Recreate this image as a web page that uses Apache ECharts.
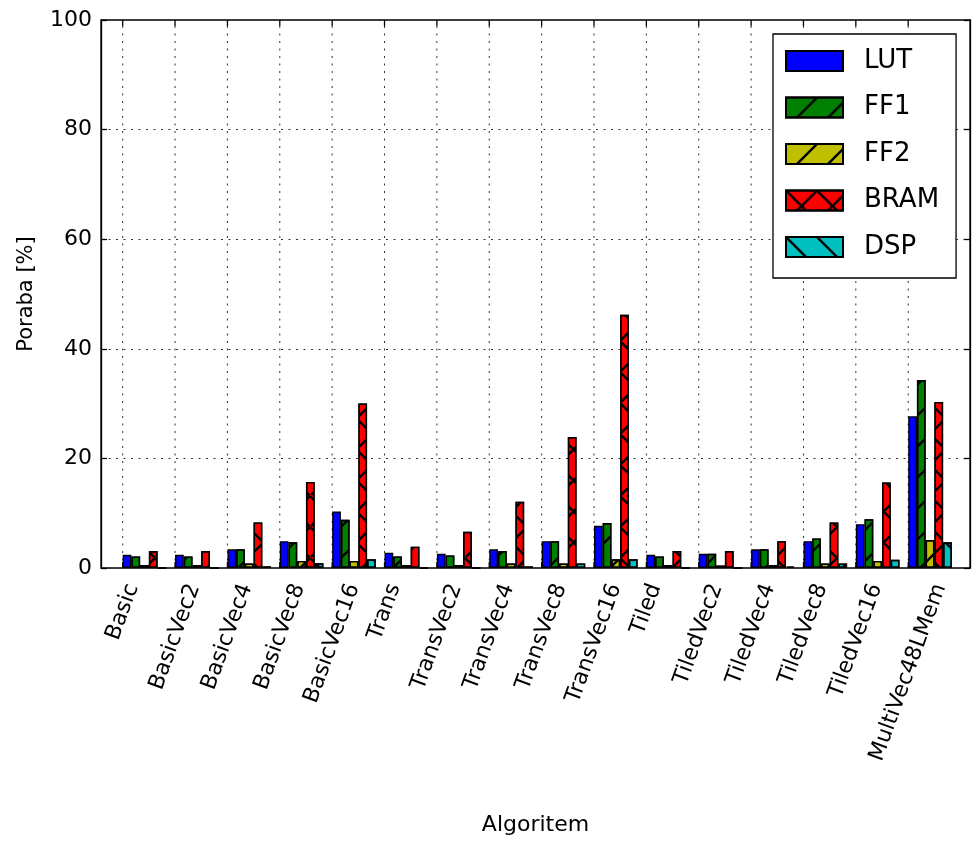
<!DOCTYPE html>
<html>
<head>
<meta charset="utf-8">
<script src="https://cdn.jsdelivr.net/npm/echarts@6/dist/echarts.min.js"></script>
<style>html,body{margin:0;padding:0;background:#fff}#c{width:972px;height:843px}</style>
</head>
<body>
<div id="c"></div>
<script>
const categories = ['Basic','BasicVec2','BasicVec4','BasicVec8','BasicVec16','Trans','TransVec2','TransVec4','TransVec8','TransVec16','Tiled','TiledVec2','TiledVec4','TiledVec8','TiledVec16','MultiVec48LMem'];
const seriesNames = ['LUT','FF1','FF2','BRAM','DSP'];
const LUT  = [2.4, 2.4, 3.4, 4.9, 10.3, 2.8, 2.6, 3.4, 4.9, 7.7, 2.4, 2.6, 3.4, 4.9, 8.0, 27.7];
const FF1  = [2.1, 2.1, 3.4, 4.7, 8.8, 2.1, 2.3, 3.1, 4.9, 8.2, 2.1, 2.6, 3.4, 5.4, 8.9, 34.3];
const FF2  = [0.55, 0.55, 0.8, 1.3, 1.3, 0.55, 0.55, 0.8, 0.8, 1.6, 0.55, 0.45, 0.55, 0.8, 1.3, 5.1];
const BRAM = [3.1, 3.1, 8.3, 15.7, 30.0, 3.9, 6.6, 12.1, 23.9, 46.2, 3.1, 3.1, 4.9, 8.3, 15.6, 30.3];
const DSP  = [0, 0, 0.3, 0.85, 1.6, 0, 0, 0.3, 0.8, 1.6, 0, 0, 0.25, 0.8, 1.5, 4.7];
const yTicks = [0, 20, 40, 60, 80, 100];

const values = [LUT, FF1, FF2, BRAM, DSP];
const colors = ['#0000ff', '#008000', '#bfbf00', '#ff0000', '#00bfbf'];
const FONT = 'DejaVu Sans';
const XFS = 22;

// hatch decals
const t = 5.5;
const slash = `M0,${100-t} L${100-t},0 L100,0 L100,${t} L${t},100 L0,100 Z M0,0 L${t},0 L0,${t} Z M100,100 L${100-t},100 L100,${100-t} Z`;
const back = `M0,0 L${t},0 L100,${100-t} L100,100 L${100-t},100 L0,${t} Z M100,0 L100,${t} L${100-t},0 Z M0,100 L${t},100 L0,${100-t} Z`;
function mkDecal(p) {
  return { symbol: 'path://' + p, symbolSize: 1, dashArrayX: [31, 0], dashArrayY: [31, 0], color: '#000', rotation: 0, symbolKeepAspect: false };
}
const decals = [
  null,
  mkDecal(slash),
  mkDecal(slash),
  mkDecal(slash + ' ' + back),
  mkDecal(back)
];

const ctx = document.createElement('canvas').getContext('2d');
function textW(s) { ctx.font = XFS + 'px "' + FONT + '"'; return ctx.measureText(s).width; }

const chart = echarts.init(document.getElementById('c'), null, { renderer: 'canvas' });

const gridSeries = {
  type: 'custom',
  name: 'grid',
  z: 1,
  silent: true,
  clip: false,
  encode: { x: 0, y: 1 },
  data: categories.map((c, i) => [i, 0]),
  renderItem: function (params, api) {
    const i = api.value(0);
    const b = api.coord([i, yTicks[0]]);
    const tp = api.coord([i, yTicks[yTicks.length - 1]]);
    const name = categories[params.dataIndex];
    const w = textW(name), h = XFS * 0.95;
    const th = 70 * Math.PI / 180;
    const H = w * Math.sin(th) + h * Math.cos(th);
    const top = b[1] + 13;
    return {
      type: 'group',
      children: [
        { type: 'line', shape: { x1: b[0], y1: b[1], x2: tp[0], y2: tp[1] }, style: { stroke: '#333', lineWidth: 1, lineDash: [2, 5.5] } },
        { type: 'line', shape: { x1: b[0], y1: b[1], x2: b[0], y2: b[1] - 6 }, style: { stroke: '#000', lineWidth: 1.3 } },
        { type: 'line', shape: { x1: tp[0], y1: tp[1], x2: tp[0], y2: tp[1] + 6 }, style: { stroke: '#000', lineWidth: 1.3 } },
        { type: 'text', x: b[0], y: top + H / 2, rotation: th,
          style: { text: name, fontSize: XFS, fontFamily: FONT, fill: '#000', align: 'center', verticalAlign: 'middle' } }
      ]
    };
  }
};

const barSeries = seriesNames.map((n, k) => {
  const itemStyle = { color: colors[k], borderColor: '#000', borderWidth: 1.4 };
  if (decals[k]) itemStyle.decal = decals[k];
  return {
    type: 'bar',
    name: n,
    z: 3,
    barWidth: 8.73,
    barGap: '-100%',
    data: values[k].map((v, i) => [i + (k + 0.5) / 6, v]),
    itemStyle: itemStyle
  };
});

const option = {
  animation: false,
  backgroundColor: '#fff',
  grid: { left: 101, right: 2, top: 20, bottom: 275, show: true, borderColor: '#000', borderWidth: 1.3, backgroundColor: 'transparent' },
  xAxis: {
    type: 'value', min: -0.414, max: 16.18,
    axisLine: { show: false, onZero: false }, axisTick: { show: false }, axisLabel: { show: false }, splitLine: { show: false },
    name: 'Algoritem', nameLocation: 'middle', nameGap: 246,
    nameTextStyle: { fontFamily: FONT, fontSize: 22, color: '#000', verticalAlign: 'top' }
  },
  yAxis: [
    {
      type: 'value', min: yTicks[0], max: yTicks[yTicks.length - 1], interval: 20,
      axisLine: { show: true, onZero: false, lineStyle: { color: '#000', width: 1.3 } },
      axisTick: { show: true, inside: true, length: 6, lineStyle: { color: '#000', width: 1.3 } },
      axisLabel: { fontFamily: FONT, fontSize: 22, color: '#000', margin: 9 },
      splitLine: { show: true, lineStyle: { color: '#333', width: 1, type: [2, 5.5] } },
      name: 'Poraba [%]', nameLocation: 'middle', nameGap: 64,
      nameTextStyle: { fontFamily: FONT, fontSize: 21, color: '#000' }
    },
    {
      type: 'value', position: 'right', min: yTicks[0], max: yTicks[yTicks.length - 1], interval: 20,
      axisLine: { show: true, onZero: false, lineStyle: { color: '#000', width: 1.3 } },
      axisTick: { show: true, inside: true, length: 6, lineStyle: { color: '#000', width: 1.3 } },
      axisLabel: { show: false }, splitLine: { show: false }
    }
  ],
  legend: {
    data: seriesNames,
    orient: 'vertical', left: 773, top: 34,
    padding: [14, 17, 18, 12],
    itemWidth: 57, itemHeight: 20, itemGap: 20.5,
    icon: 'rect',
    backgroundColor: '#fff', borderColor: '#000', borderWidth: 1.3, borderRadius: 0,
    selectedMode: false,
    textStyle: { fontFamily: FONT, fontSize: 26, color: '#000', lineHeight: 20, padding: [0, 0, 0, 16] }
  },
  series: [gridSeries].concat(barSeries)
};
chart.setOption(option);
</script>
</body>
</html>
